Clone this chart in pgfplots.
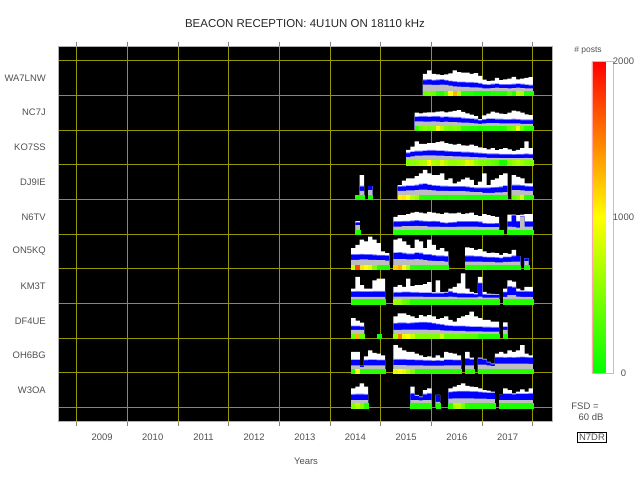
\documentclass[border=0pt]{standalone}
\usepackage{fontspec}
\setmainfont{Liberation Sans}
\usepackage{pgfplots}
\pgfplotsset{compat=1.18}
\usepackage{pgfplotstable}
\definecolor{gridc}{RGB}{150,150,0}
\definecolor{lav}{RGB}{130,130,255}
\definecolor{gr}{RGB}{190,190,190}
\definecolor{txt}{RGB}{80,80,80}

\pgfplotstableread{
m p g b w
82 400 0.31 0.43 0.62
83 450 0.31 0.44 0.72
84 400 0.30 0.42 0.62
85 160 0.30 0.43 0.60
86 130 0.31 0.44 0.58
87 350 0.30 0.42 0.60
88 1000 0.28 0.40 0.63
89 1300 0.26 0.38 0.72
90 700 0.25 0.37 0.67
91 160 0.24 0.37 0.65
92 150 0.24 0.36 0.65
93 130 0.23 0.36 0.62
94 60 0.23 0.35 0.64
95 60 0.22 0.33 0.56
96 60 0.20 0.30 0.45
97 80 0.20 0.29 0.41
98 130 0.21 0.31 0.42
99 130 0.22 0.32 0.50
100 150 0.21 0.30 0.44
101 130 0.21 0.30 0.46
102 350 0.20 0.30 0.48
103 130 0.21 0.31 0.53
104 700 0.22 0.32 0.46
105 650 0.21 0.31 0.48
106 130 0.20 0.29 0.50
107 130 0.20 0.28 0.52
}\tWA

\pgfplotstableread{
m p g b w
80 180 0.25 0.37 0.50
81 450 0.25 0.38 0.48
82 500 0.24 0.38 0.50
83 450 0.24 0.37 0.51
84 500 0.25 0.38 0.51
85 1000 0.24 0.38 0.53
86 700 0.23 0.36 0.54
87 500 0.24 0.37 0.51
88 450 0.23 0.36 0.53
89 500 0.23 0.35 0.55
90 450 0.22 0.35 0.57
91 180 0.21 0.33 0.52
92 180 0.21 0.32 0.48
93 150 0.20 0.31 0.44
94 150 0.19 0.30 0.40
95 100 0.18 0.27 0.31
96 130 0.19 0.29 0.42
97 150 0.20 0.31 0.47
98 150 0.20 0.31 0.53
99 130 0.20 0.30 0.50
100 130 0.19 0.30 0.47
101 150 0.19 0.29 0.46
102 400 0.19 0.29 0.50
103 450 0.19 0.30 0.56
104 950 0.19 0.29 0.54
105 400 0.18 0.28 0.50
106 150 0.18 0.28 0.45
107 150 0.18 0.28 0.43
}\tNC

\pgfplotstableread{
m p g b w
78 500 0.22 0.33 0.43
79 550 0.24 0.36 0.52
80 600 0.26 0.38 0.67
81 650 0.26 0.38 0.60
82 700 0.27 0.39 0.60
83 1000 0.27 0.40 0.62
84 700 0.27 0.40 0.62
85 650 0.26 0.39 0.65
86 900 0.26 0.39 0.67
87 700 0.25 0.38 0.62
88 600 0.25 0.37 0.60
89 600 0.24 0.36 0.58
90 650 0.24 0.36 0.60
91 700 0.23 0.35 0.56
92 900 0.23 0.35 0.55
93 800 0.22 0.34 0.58
94 600 0.22 0.33 0.54
95 500 0.21 0.32 0.50
96 500 0.21 0.31 0.48
97 450 0.20 0.30 0.44
98 400 0.20 0.30 0.48
99 350 0.20 0.30 0.42
100 100 0.19 0.29 0.45
101 100 0.19 0.29 0.48
102 500 0.19 0.29 0.44
103 600 0.19 0.28 0.40
104 700 0.19 0.29 0.43
105 600 0.19 0.29 0.48
106 500 0.20 0.30 0.67
107 450 0.19 0.29 0.48
}\tKO

\pgfplotstableread{
m p g b w
66 130 0 0 0
67 130 0.25 0.37 0.70
69 100 0.27 0.38 0.38
76 1050 0.25 0.36 0.41
77 1100 0.25 0.37 0.54
78 1000 0.26 0.38 0.61
79 700 0.26 0.38 0.61
80 600 0.27 0.40 0.67
81 160 0.28 0.43 0.75
82 150 0.28 0.44 0.85
83 130 0.27 0.41 0.75
84 130 0.26 0.39 0.70
85 130 0.25 0.38 0.70
86 130 0.25 0.37 0.75
87 100 0.25 0.37 0.56
88 130 0.24 0.36 0.61
89 130 0.24 0.36 0.46
90 130 0.24 0.36 0.51
91 130 0.24 0.36 0.58
92 100 0.23 0.35 0.63
93 100 0.22 0.33 0.56
94 100 0.21 0.32 0.41
95 80 0.21 0.32 0.51
96 80 0.19 0.32 0.75
97 80 0.19 0.32 0.41
98 100 0.19 0.33 0.56
99 100 0.20 0.34 0.61
100 130 0.20 0.35 0.70
101 130 0.21 0.38 0.75
103 400 0.27 0.40 0.70
104 500 0.27 0.40 0.65
105 800 0.26 0.39 0.61
106 160 0.25 0.37 0.46
107 150 0.25 0.36 0.46
}\tDJ

\pgfplotstableread{
m p g b w
66 130 0.26 0.33 0.375
75 130 0.22 0.35 0.50
76 130 0.22 0.35 0.55
77 130 0.23 0.36 0.55
78 130 0.23 0.36 0.58
79 130 0.23 0.37 0.62
80 150 0.24 0.38 0.64
81 130 0.23 0.37 0.62
82 130 0.23 0.36 0.60
83 130 0.22 0.35 0.64
84 130 0.22 0.36 0.62
85 100 0.22 0.35 0.60
86 100 0.21 0.32 0.58
87 100 0.21 0.31 0.62
88 100 0.21 0.32 0.60
89 100 0.21 0.33 0.60
90 100 0.22 0.35 0.62
91 100 0.22 0.35 0.58
92 100 0.22 0.35 0.60
93 100 0.22 0.35 0.62
94 100 0.22 0.35 0.55
95 100 0.21 0.34 0.52
96 100 0.20 0.30 0.58
97 100 0.20 0.29 0.55
98 100 0.20 0.29 0.52
99 100 0.20 0.30 0.50
100 100 0 0 0
102 100 0.22 0.35 0.56
103 100 0.21 0.53 0.56
104 100 0.19 0.36 0.55
105 130 0.50 0.50 0.56
106 130 0.22 0.35 0.58
107 130 0.22 0.35 0.58
}\tNS

\pgfplotstableread{
m p g b w
65 800 0.26 0.40 0.60
66 1700 0.26 0.40 0.69
67 1100 0.27 0.41 0.84
68 1000 0.27 0.40 0.79
69 900 0.26 0.40 0.93
70 500 0.26 0.39 0.84
71 130 0.25 0.38 0.74
72 130 0.25 0.38 0.50
73 100 0.24 0.37 0.45
75 1200 0.28 0.45 0.84
76 1300 0.28 0.46 0.88
77 1000 0.28 0.44 0.79
78 700 0.27 0.42 0.69
79 160 0.27 0.42 0.60
80 150 0.28 0.45 0.84
81 130 0.27 0.44 0.79
82 130 0.25 0.40 0.60
83 130 0.24 0.40 0.84
84 130 0.23 0.38 0.69
85 130 0.22 0.36 0.55
86 130 0.22 0.36 0.60
87 130 0.21 0.35 0.50
92 130 0.21 0.36 0.62
93 130 0.21 0.36 0.60
94 130 0.21 0.35 0.55
95 130 0.21 0.35 0.57
96 130 0.20 0.33 0.50
97 100 0.20 0.32 0.45
98 100 0.20 0.32 0.47
99 100 0.19 0.31 0.45
100 100 0.19 0.30 0.40
101 100 0.20 0.33 0.45
102 100 0.20 0.33 0.43
103 100 0.21 0.36 0.55
104 100 0.21 0.37 0.37
106 100 0.22 0.30 0.30
}\tON

\pgfplotstableread{
m p g b w
65 130 0.19 0.33 0.43
66 130 0.19 0.34 0.77
67 130 0.19 0.33 0.53
68 130 0.19 0.33 0.43
69 130 0.19 0.33 0.43
70 130 0.19 0.34 0.67
71 130 0.19 0.34 0.72
72 130 0.19 0.34 0.72
75 600 0.20 0.31 0.48
76 600 0.20 0.31 0.53
77 400 0.20 0.32 0.48
78 350 0.20 0.32 0.72
79 130 0.20 0.31 0.50
80 130 0.20 0.31 0.53
81 130 0.20 0.30 0.53
82 130 0.19 0.30 0.56
83 130 0.19 0.30 0.62
84 130 0.19 0.29 0.33
85 130 0.19 0.29 0.67
86 130 0.19 0.29 0.33
87 130 0.19 0.30 0.34
88 130 0.20 0.34 0.43
89 130 0.19 0.30 0.48
90 130 0.18 0.28 0.58
91 130 0.18 0.28 0.87
92 130 0.18 0.27 0.43
93 130 0.18 0.27 0.34
94 130 0.18 0.26 0.30
95 130 0.20 0.58 0.77
96 130 0.17 0.25 0.34
97 130 0.17 0.24 0.29
98 130 0.17 0.24 0.28
99 130 0.17 0.24 0.27
101 130 0.19 0.32 0.43
102 130 0.24 0.48 0.67
103 130 0.24 0.46 0.63
104 130 0.20 0.34 0.43
105 130 0.19 0.33 0.38
106 130 0.19 0.34 0.48
107 130 0.19 0.33 0.48
}\tKM

\pgfplotstableread{
m p g b w
65 400 0.24 0.34 0.58
66 1300 0.24 0.34 0.51
67 400 0.24 0.33 0.45
71 80 0 0 0
75 600 0.24 0.42 0.63
76 1500 0.24 0.43 0.72
77 900 0.25 0.43 0.72
78 1000 0.25 0.42 0.67
79 800 0.25 0.43 0.63
80 500 0.25 0.44 0.58
81 500 0.25 0.45 0.67
82 500 0.25 0.45 0.63
83 500 0.24 0.44 0.67
84 500 0.24 0.42 0.63
85 500 0.24 0.40 0.55
86 800 0.23 0.38 0.58
87 400 0.22 0.36 0.63
88 400 0.22 0.35 0.53
89 400 0.21 0.34 0.48
90 400 0.21 0.34 0.58
91 350 0.21 0.34 0.63
92 350 0.20 0.33 0.67
93 350 0.20 0.32 0.77
94 350 0.20 0.32 0.63
95 130 0.20 0.32 0.58
96 130 0.19 0.31 0.53
97 130 0.19 0.31 0.53
98 130 0.19 0.30 0.48
99 130 0.19 0.30 0.48
101 130 0.24 0.32 0.46
}\tDF

\pgfplotstableread{
m p g b w
65 160 0.22 0.37 0.61
66 1000 0.22 0.37 0.61
67 160 0.17 0.22 0.22
68 160 0.22 0.36 0.48
69 160 0.22 0.37 0.65
70 160 0.22 0.37 0.58
71 160 0.22 0.36 0.56
72 160 0.22 0.36 0.51
75 900 0.23 0.38 0.80
76 1000 0.23 0.38 0.73
77 900 0.23 0.38 0.65
78 700 0.22 0.37 0.61
79 500 0.22 0.37 0.61
80 160 0.22 0.36 0.56
81 160 0.22 0.36 0.51
82 160 0.21 0.35 0.46
83 160 0.21 0.35 0.48
84 160 0.21 0.34 0.44
85 160 0.21 0.35 0.51
86 160 0.21 0.34 0.44
87 160 0.22 0.37 0.61
88 160 0.22 0.37 0.58
89 160 0.22 0.36 0.56
90 160 0.22 0.36 0.51
92 160 0.22 0.40 0.61
93 160 0.22 0.38 0.44
95 160 0.24 0.40 0.44
96 160 0.24 0.38 0.41
97 160 0.22 0.30 0.32
98 160 0.20 0.25 0.27
99 160 0.27 0.44 0.56
100 160 0.27 0.44 0.61
101 160 0.27 0.43 0.56
102 160 0.27 0.44 0.65
103 160 0.27 0.43 0.61
104 160 0.27 0.44 0.65
105 160 0.27 0.45 0.80
106 160 0.27 0.44 0.56
107 160 0.26 0.43 0.51
}\tOH

\pgfplotstableread{
m p g b w
65 500 0.22 0.37 0.56
66 700 0.22 0.38 0.61
67 500 0.22 0.38 0.70
68 160 0.22 0.37 0.61
79 130 0.22 0.40 0.61
80 130 0.22 0.33 0.37
81 130 0.21 0.30 0.32
82 130 0.22 0.38 0.51
83 130 0.22 0.40 0.56
85 130 0.17 0.37 0.37
88 130 0.26 0.44 0.56
89 700 0.27 0.45 0.61
90 700 0.27 0.46 0.65
91 500 0.27 0.46 0.70
92 160 0.27 0.46 0.63
93 130 0.27 0.45 0.61
94 130 0.26 0.45 0.59
95 130 0.26 0.44 0.56
96 130 0.26 0.43 0.51
97 130 0.25 0.42 0.49
98 130 0.25 0.42 0.46
100 100 0.22 0.37 0.37
101 100 0.22 0.39 0.56
102 100 0.22 0.39 0.51
103 100 0.22 0.38 0.41
104 100 0.22 0.39 0.46
105 100 0.22 0.39 0.53
106 100 0.22 0.39 0.46
107 100 0.22 0.40 0.56
}\tWO

\pgfplotsset{
  colormap={posts}{rgb255(0cm)=(0,255,0); rgb255(1cm)=(255,255,0); rgb255(2cm)=(255,0,0)},
  frame/.style={at={(58.3bp,59bp)}, anchor=south west, scale only axis,
    width=494bp, height=374.3bp, xmin=-4.36, xmax=112.6,
    colormap name=posts, point meta min=0, point meta max=2000},
  stn/.style={frame, hide axis},
  lay/.style={ybar, bar width=1.04, bar shift=0pt, draw=none, fill=#1},
}

\newcommand\station[3]{%
\begin{axis}[stn, ymin=#2, ymax=#3]
\addplot[lay=white] table[x expr=\thisrow{m}+0.5, y=w]{#1};
\addplot[lay=lav] table[x expr=\thisrow{m}+0.5, y expr={min(\thisrow{b}+0.025,\thisrow{w})}]{#1};
\addplot[lay=blue] table[x expr=\thisrow{m}+0.5, y=b]{#1};
\addplot[lay=gr] table[x expr=\thisrow{m}+0.5, y=g]{#1};
\addplot[scatter, only marks, mark=square*, mark size=2.11bp,
  point meta=\thisrow{p},
  scatter/use mapped color={draw=mapped color, fill=mapped color},
  mark options={line width=0.1pt}]
  table[x expr=\thisrow{m}+0.5, y expr=0.061]{#1};
\end{axis}}

\begin{document}
\begin{tikzpicture}
\path[use as bounding box] (0,0) rectangle (640bp,480bp);
\begin{axis}[frame, name=main,
  ymin=-0.383, ymax=10.40,
  axis background/.style={fill=black},
  axis line style={draw=gray!60},
  xtick={0,12,...,108}, xticklabels={},
  ytick={0,1,...,10}, yticklabels={},
  xmajorgrids, ymajorgrids,
  grid style={gridc, line width=1bp},
  xtick align=outside, major tick length=5bp,
  xtick style={draw=gray, line width=0.8bp},
  ytick style={draw=none},
  extra x ticks={6,18,...,102},
  extra x tick labels={2009,2010,2011,2012,2013,2014,2015,2016,2017},
  extra x tick style={grid=none, major tick length=0pt},
  extra y ticks={0.5,1.5,...,9.5},
  extra y tick labels={W3OA,OH6BG,DF4UE,KM3T,ON5KQ,N6TV,DJ9IE,KO7SS,NC7J,WA7LNW},
  extra y tick style={grid=none, major tick length=0pt},
  tick label style={font=\fontsize{9.5}{11}\selectfont, text=txt},
  xticklabel style={yshift=-9.5bp},
  yticklabel style={xshift=-9bp},
  colorbar,
  colorbar style={at={(parent axis.north east)}, anchor=north west,
    xshift=31bp, yshift=-15bp, scale only axis,
    width=21.7bp, height=311.6bp,
    ytick={0,1000,2000}, yticklabels={0,1000,2000},
    major tick length=0pt, axis line style={draw=red!35},
    yticklabel style={font=\fontsize{9.5}{11}\selectfont, text=txt, anchor=center, xshift=10bp}},
]
\end{axis}
\station{\tWA}{-9.383}{1.40}
\station{\tNC}{-8.383}{2.40}
\station{\tKO}{-7.383}{3.40}
\station{\tDJ}{-6.383}{4.40}
\station{\tNS}{-5.383}{5.40}
\station{\tON}{-4.383}{6.40}
\station{\tKM}{-3.383}{7.40}
\station{\tDF}{-2.383}{8.40}
\station{\tOH}{-1.383}{9.40}
\station{\tWO}{-0.383}{10.40}
\node[font=\fontsize{11.5}{13}\selectfont, text=black!85] at (305bp,457bp) {BEACON RECEPTION: 4U1UN ON 18110 kHz};
\node[font=\fontsize{9.5}{11}\selectfont, text=txt] at (306bp,19bp) {Years};
\node[font=\fontsize{8.5}{10}\selectfont, text=txt] at (588bp,430bp) {\# posts};
\node[font=\fontsize{9.5}{11}\selectfont, text=txt] at (585bp,74bp) {FSD =};
\node[font=\fontsize{9.5}{11}\selectfont, text=txt] at (591bp,63bp) {60 dB};
\node[draw=black, inner sep=1.5bp, font=\fontsize{9.5}{11}\selectfont, text=txt] at (592bp,43bp) {N7DR};
\end{tikzpicture}
\end{document}
